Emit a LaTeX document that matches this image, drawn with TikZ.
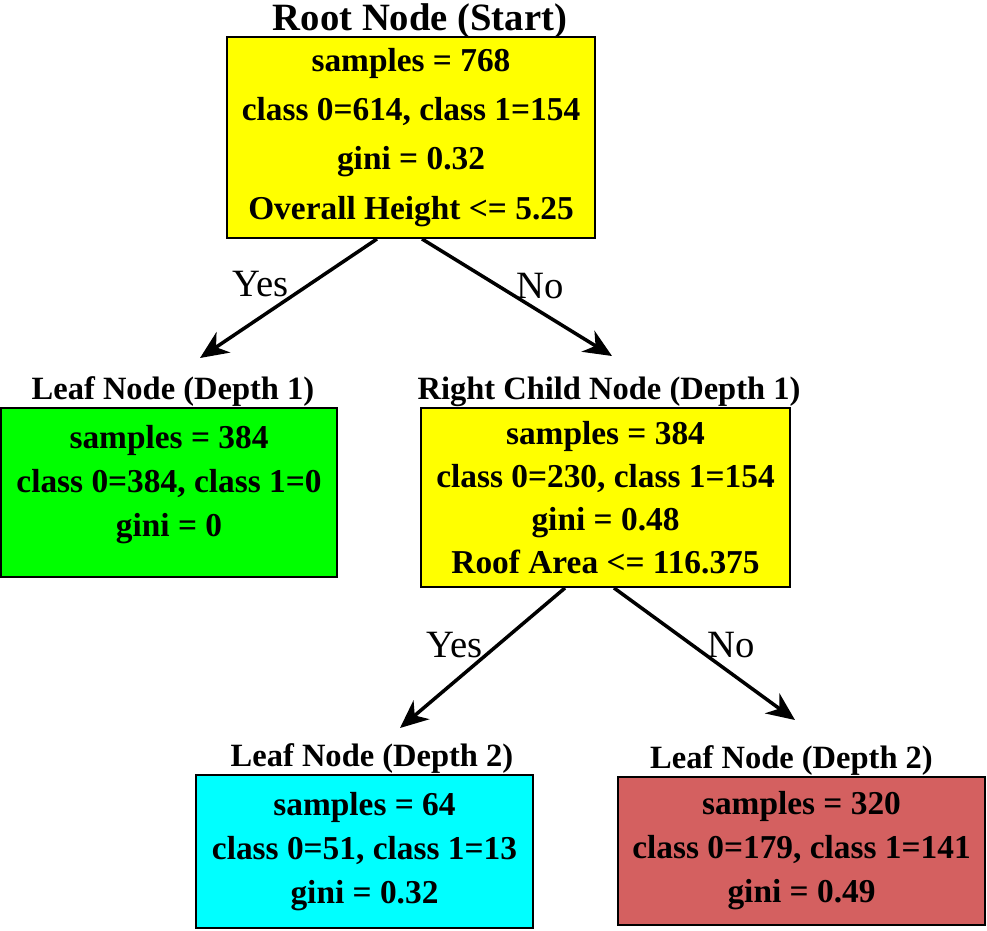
\documentclass[tikz,border=0pt]{standalone}
\usepackage{fontspec}
\setmainfont{Liberation Serif}
\usetikzlibrary{arrows.meta}
\definecolor{splityellow}{RGB}{255,255,0}
\definecolor{leafgreen}{RGB}{0,255,0}
\definecolor{leafcyan}{RGB}{0,255,255}
\definecolor{leafred}{RGB}{212,96,96}

\begin{document}
\begin{tikzpicture}[
    x=0.02cm, y=-0.02cm,
    >={Stealth[length=16pt, width=14pt, inset=5pt]},
    line/.style   = {line width=2pt},
    box/.style    = {draw, line width=1.1pt, align=center, inner sep=0pt,
                     font=\bfseries\fontsize{19}{25}\selectfont},
    title/.style  = {inner sep=0pt, label distance=0pt,
                     font=\bfseries\fontsize{18.5}{22}\selectfont},
    choice/.style = {font=\fontsize{22}{26}\selectfont}
]
\useasboundingbox (0,0) rectangle (987,930);

% Root split
\node[box, fill=splityellow, minimum width=7.36cm, minimum height=4.02cm,
      font=\bfseries\fontsize{19}{28}\selectfont,
      label={[title, xshift=0.18cm, label distance=-1.5pt,
              font=\bfseries\fontsize{22}{26}\selectfont]above:Root Node (Start)}]
    (root) at (411,137.5)
    {samples = 768\\ class 0=614, class 1=154\\ gini = 0.32\\ Overall Height <= 5.25};

% Depth 1
\node[box, fill=leafgreen, minimum width=6.72cm, minimum height=3.38cm, text depth=13pt,
      label={[title, xshift=0.08cm]above:Leaf Node (Depth 1)}]
    (leafA) at (169,492.5)
    {samples = 384\\ class 0=384, class 1=0\\ gini = 0};
\node[box, fill=splityellow, minimum width=7.38cm, minimum height=3.58cm,
      font=\bfseries\fontsize{19}{24.5}\selectfont,
      label={[title, xshift=0.07cm]above:Right Child Node (Depth 1)}]
    (right) at (605.5,497.5)
    {samples = 384\\ class 0=230, class 1=154\\ gini = 0.48\\ Roof Area <= 116.375};

% Depth 2
\node[box, fill=leafcyan, minimum width=6.74cm, minimum height=3.06cm,
      label={[title, xshift=0.15cm]above:Leaf Node (Depth 2)}]
    (leafB) at (364.5,851.5)
    {samples = 64\\ class 0=51, class 1=13\\ gini = 0.32};
\node[box, fill=leafred, minimum width=7.34cm, minimum height=2.96cm,
      label={[title, xshift=-0.2cm]above:Leaf Node (Depth 2)}]
    (leafC) at (801.5,851)
    {samples = 320\\ class 0=179, class 1=141\\ gini = 0.49};

% Branch tips
\coordinate (yesA) at (200,358);
\coordinate (noA)  at (612,356);
\coordinate (yesB) at (400,728);
\coordinate (noB)  at (795,720);

% Branches
\draw[->, line] ([xshift=-0.68cm]root.south) -- (yesA)
    node[choice, pos=.375, left=8pt] {Yes};
\draw[->, line] ([xshift=0.22cm]root.south) -- (noA)
    node[choice, pos=.4, right=6pt] {No};
\draw[->, line] ([xshift=-0.81cm]right.south) -- (yesB)
    node[choice, pos=.41, left=4pt] {Yes};
\draw[->, line] ([xshift=0.17cm]right.south) -- (noB)
    node[choice, pos=.436, right=4pt] {No};

\end{tikzpicture}
\end{document}
